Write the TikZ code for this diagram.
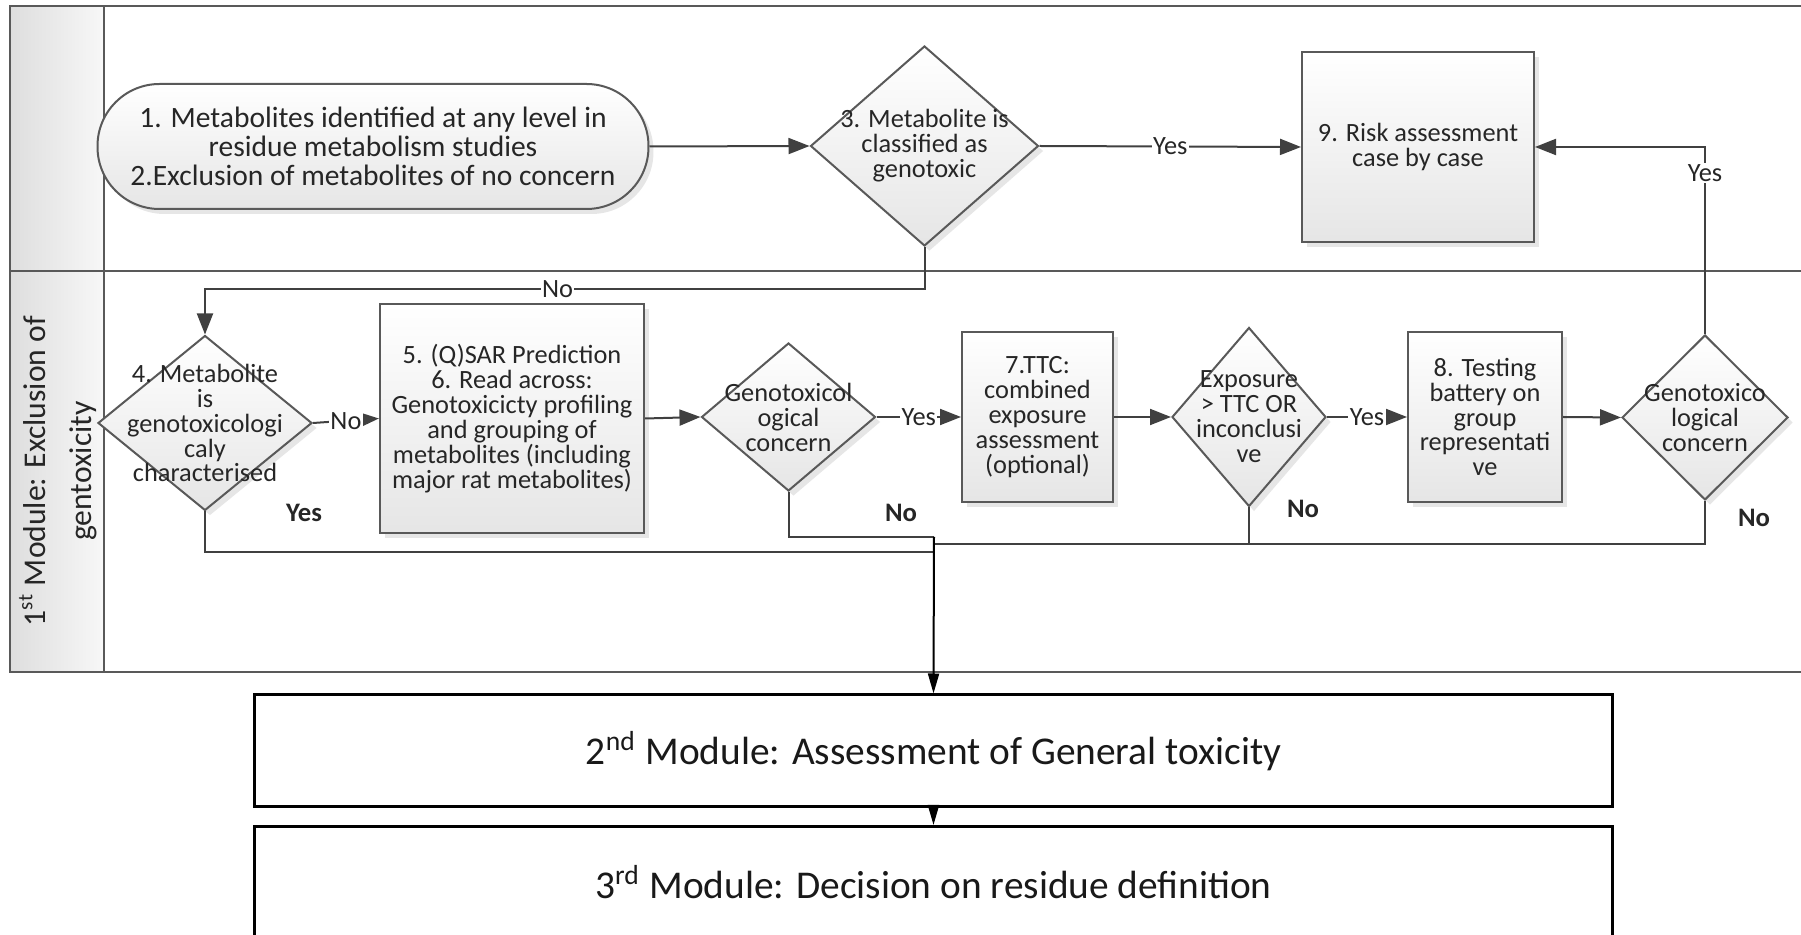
\documentclass[tikz,border=0pt]{standalone}
\usepackage{fontspec}
\setmainfont{Carlito}
\usetikzlibrary{arrows.meta,shapes.geometric,shadows}

\newcommand\boxsize{\fontsize{7.5}{7.1}\selectfont\lineskiplimit=-5pt\relax}
\newcommand\startsize{\fontsize{8.4}{8.2}\selectfont\lineskiplimit=-5pt\relax}

\tikzset{
	lane/.style={draw=black!65, line width=0.2mm},
	boxfont/.style={font=\boxsize, text=black!85},
	proc/.style={rectangle, draw=black!65, line width=0.2mm, top color=white, bottom color=black!10,
		drop shadow={opacity=0.2, shadow xshift=0.5mm, shadow yshift=-0.5mm}, align=center, boxfont},
	dec/.style={diamond, draw=black!65, line width=0.2mm, top color=white, bottom color=black!10,
		drop shadow={opacity=0.2, shadow xshift=0.5mm, shadow yshift=-0.5mm}, inner sep=0pt},
	dectext/.style={align=center, boxfont},
	flow/.style={draw=black!75, line width=0.2mm, -{Triangle[length=2.1mm,width=1.6mm]}},
	link/.style={draw=black!75, line width=0.2mm},
	yn/.style={fill=white, inner sep=0.4pt, boxfont},
	ynfree/.style={inner sep=0pt, font=\fontsize{7.6}{8}\selectfont\bfseries, text=black!85},
	module/.style={rectangle, draw=black, line width=0.3mm, fill=white, minimum width=135.8mm,
		minimum height=11.2mm, font=\fontsize{11.2}{12}\selectfont, text=black!90},
	modarrow/.style={draw=black, line width=0.2mm, -{Triangle[length=2mm,width=1.1mm]}},
}

\begin{document}
\begin{tikzpicture}[x=0.1mm,y=-0.1mm]
	%%%%% START %%%%%
	\useasboundingbox (0,0) rectangle (1801,935);

	% swimlane frame
	\fill[left color=black!13, right color=black!3] (10,6) rectangle (103.5,672);
	\draw[lane] (1801,6) -- (10,6) -- (10,672) -- (1801,672);
	\draw[lane] (10,271) -- (1801,271);
	\draw[lane] (103.5,6) -- (103.5,672);
	\node[rotate=90, align=center, font=\fontsize{9}{13}\selectfont, text=black!85] (lanetitle) at (58,471)
		{1\textsuperscript{st} Module: Exclusion of\\gentoxicity};

	% upper lane
	\node[proc, rounded corners=6.2mm, minimum width=55.1mm, minimum height=12.5mm, font=\startsize] (s1) at (373,146.5)
		{1. Metabolites identified at any level in\\residue metabolism studies\\2.Exclusion of metabolites of no concern};
	\node[dec, minimum width=22.8mm, minimum height=20mm,
		label={[dectext]center:{3. Metabolite is\\classified as\\genotoxic}}] (d3) at (924.5,146) {};
	\node[proc, minimum width=23.2mm, minimum height=19mm] (b9) at (1418,147) {9. Risk assessment\\case by case};

	% lower lane
	\node[dec, minimum width=21.4mm, minimum height=17.5mm,
		label={[dectext]center:{4. Metabolite\\is\\genotoxicologi\\caly\\characterised}}] (d4) at (205,423) {};
	\node[proc, minimum width=25.9mm, minimum height=22.9mm] (b5) at (512,418.5)
		{5. (Q)SAR Prediction\\6. Read across:\\Genotoxicicty profiling\\and grouping of\\metabolites (including\\major rat metabolites)};
	\node[dec, minimum width=17.4mm, minimum height=14.8mm,
		label={[dectext]center:{Genotoxicol\\ogical\\concern}}] (g1) at (788.5,417) {};
	\node[proc, minimum width=15.1mm, minimum height=17mm] (b7) at (1037.5,417)
		{7.TTC:\\combined\\exposure\\assessment\\(optional)};
	\node[dec, minimum width=15.4mm, minimum height=17.9mm,
		label={[dectext]center:{Exposure\\> TTC OR\\inconclusi\\ve}}] (e) at (1249,417) {};
	\node[proc, minimum width=15.4mm, minimum height=17mm] (b8) at (1485,417)
		{8. Testing\\battery on\\group\\representati\\ve};
	\node[dec, minimum width=16.6mm, minimum height=16.5mm,
		label={[dectext]center:{Genotoxico\\logical\\concern}}] (g2) at (1705,417.5) {};

	% modules 2 and 3
	\node[module] (m2) at (933.5,751) {2\textsuperscript{nd} Module: Assessment of General toxicity};
	\node[module] (m3) at (933.5,882.5) {3\textsuperscript{rd} Module: Decision on residue definition};

	% connectors
	\draw[flow] (s1.east) -- (d3.west);
	\draw[flow] (d3.east) -- node[yn]{Yes} (b9.west);
	\draw[flow] (g2.north) |- node[yn, pos=0.43]{Yes} (b9.east);
	\draw[flow] (d3.south) -- ++(0,42) -| node[yn, pos=0.255]{No} (d4.north);
	\draw[flow] (d4.east) -- node[yn]{No} (b5.west);
	\draw[flow] (b5.east) -- (g1.west);
	\draw[flow] (g1.east) -- node[yn]{Yes} (b7.west);
	\draw[flow] (b7.east) -- (e.west);
	\draw[flow] (e.east) -- node[yn]{Yes} (b8.west);
	\draw[flow] (b8.east) -- (g2.west);

	% way out of the first module
	\coordinate (jn) at (934,537);
	\draw[link] (d4.south) |- (jn |- 0,552);
	\draw[link] (g1.south) |- (jn);
	\draw[link] (g2.south) |- (jn |- 0,544);
	\draw[link] (e.south) -- (e.south |- 0,544);
	\draw[modarrow] (jn) -- (m2.north);
	\draw[modarrow] (m2.south) -- (m3.north);

	\node[ynfree] (yes4) at (304,513) {Yes};
	\node[ynfree] (nog1) at (901,513) {No};
	\node[ynfree] (noe) at (1303,509) {No};
	\node[ynfree] (nog2) at (1754,518) {No};
	%%%%% END %%%%%
\end{tikzpicture}
\end{document}
